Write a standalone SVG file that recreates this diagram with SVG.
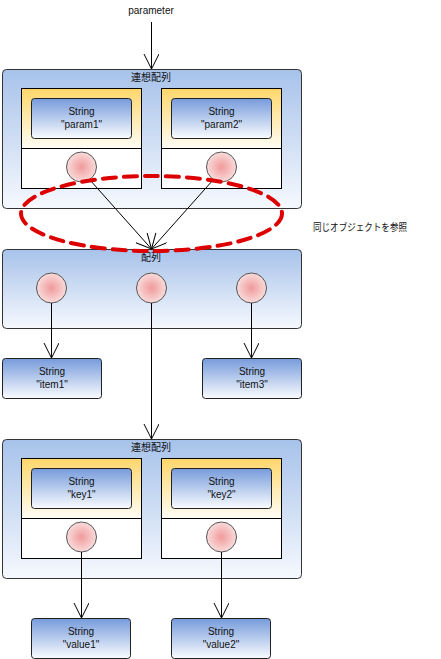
<svg xmlns="http://www.w3.org/2000/svg" width="441" height="659" viewBox="0 0 441 659">
<defs>
<linearGradient id="gOuter" x1="0" y1="0" x2="0" y2="1"><stop offset="0" stop-color="#A7C2EA"/><stop offset="1" stop-color="#F6F9FE"/></linearGradient>
<linearGradient id="gEntry" x1="0" y1="0" x2="0" y2="1"><stop offset="0" stop-color="#FFD66A"/><stop offset="1" stop-color="#FFFDF6"/></linearGradient>
<linearGradient id="gStr" x1="0" y1="0" x2="0" y2="1"><stop offset="0" stop-color="#769BDB"/><stop offset="1" stop-color="#FAFCFF"/></linearGradient>
<radialGradient id="gRef" cx="0.5" cy="0.5" r="0.5"><stop offset="0" stop-color="#F19A9A"/><stop offset="1" stop-color="#F9DCDC"/></radialGradient>
<marker id="arr" markerWidth="18" markerHeight="18" refX="15" refY="7.5" orient="auto" markerUnits="userSpaceOnUse"><path d="M0,0 L15,7.5 L0,15" fill="none" stroke="#000" stroke-width="1"/></marker>
</defs>
<style>
.outer{fill:url(#gOuter);stroke:#333;stroke-width:1}
.entry{fill:url(#gEntry);stroke:#000;stroke-width:1}
.slot{fill:#fff;stroke:#000;stroke-width:1}
.str{fill:url(#gStr);stroke:#222;stroke-width:1}
.ref{fill:url(#gRef);stroke:#555;stroke-width:1}
text{font-family:"Liberation Sans","Noto Sans CJK JP",sans-serif;font-size:10px;fill:#111;text-anchor:middle}
.cn{stroke:#000;stroke-width:1;fill:none;marker-end:url(#arr)}
</style>
<text x="151" y="14">parameter</text>

<g id="assoc1">
<rect class="outer" x="2.5" y="69.5" width="299" height="139" rx="4"/>
<text x="151" y="81">連想配列</text>
<g id="entry-param1">
<rect class="entry" x="21.5" y="88.5" width="120" height="60"/>
<rect class="slot" x="21.5" y="148.5" width="120" height="40"/>
<rect class="str" x="31.5" y="98.5" width="100" height="40" rx="3"/>
<text x="81.5" y="115">String</text><text x="81.5" y="128">"param1"</text>
<circle class="ref" cx="81.5" cy="167" r="15"/>
</g>
<g id="entry-param2">
<rect class="entry" x="161.5" y="88.5" width="120" height="60"/>
<rect class="slot" x="161.5" y="148.5" width="120" height="40"/>
<rect class="str" x="171.5" y="98.5" width="100" height="40" rx="3"/>
<text x="221.5" y="115">String</text><text x="221.5" y="128">"param2"</text>
<circle class="ref" cx="221.5" cy="167" r="15"/>
</g>
</g>

<g id="array">
<rect class="outer" x="2.5" y="249.5" width="299" height="79" rx="4"/>
<text x="151" y="261">配列</text>
<circle class="ref" cx="51.5" cy="288" r="15"/>
<circle class="ref" cx="151.5" cy="288" r="15"/>
<circle class="ref" cx="251.5" cy="288" r="15"/>
</g>

<g id="item1"><rect class="str" x="2.5" y="358.5" width="99" height="40" rx="3"/><text x="52" y="375">String</text><text x="52" y="388">"item1"</text></g>
<g id="item3"><rect class="str" x="202.5" y="358.5" width="99" height="40" rx="3"/><text x="252" y="375">String</text><text x="252" y="388">"item3"</text></g>

<g id="assoc2">
<rect class="outer" x="2.5" y="439.5" width="299" height="139" rx="4"/>
<text x="151" y="451">連想配列</text>
<g id="entry-key1">
<rect class="entry" x="21.5" y="458.5" width="120" height="60"/>
<rect class="slot" x="21.5" y="518.5" width="120" height="40"/>
<rect class="str" x="31.5" y="468.5" width="100" height="40" rx="3"/>
<text x="81.5" y="485">String</text><text x="81.5" y="498">"key1"</text>
<circle class="ref" cx="81.5" cy="537" r="15"/>
</g>
<g id="entry-key2">
<rect class="entry" x="161.5" y="458.5" width="120" height="60"/>
<rect class="slot" x="161.5" y="518.5" width="120" height="40"/>
<rect class="str" x="171.5" y="468.5" width="100" height="40" rx="3"/>
<text x="221.5" y="485">String</text><text x="221.5" y="498">"key2"</text>
<circle class="ref" cx="221.5" cy="537" r="15"/>
</g>
</g>

<g id="value1"><rect class="str" x="31.5" y="618.5" width="99" height="40" rx="3"/><text x="81" y="635">String</text><text x="81" y="648">"value1"</text></g>
<g id="value2"><rect class="str" x="171.5" y="618.5" width="99" height="40" rx="3"/><text x="221" y="635">String</text><text x="221" y="648">"value2"</text></g>

<g id="connectors">
<line class="cn" x1="151.5" y1="22" x2="151.5" y2="69"/>
<line class="cn" x1="90" y1="180" x2="151.5" y2="249"/>
<line class="cn" x1="213" y1="180" x2="151.5" y2="249"/>
<line class="cn" x1="51.5" y1="303" x2="51.5" y2="358"/>
<line class="cn" x1="251.5" y1="303" x2="251.5" y2="358"/>
<line class="cn" x1="151.5" y1="303" x2="151.5" y2="439"/>
<line class="cn" x1="81.5" y1="552" x2="81.5" y2="618"/>
<line class="cn" x1="221.5" y1="552" x2="221.5" y2="618"/>
</g>

<g id="same-object">
<ellipse cx="151.5" cy="213.5" rx="130.5" ry="37.5" fill="none" stroke="#DD0000" stroke-width="4" stroke-dasharray="13,8" stroke-linecap="round"/>
<text x="360" y="231" textLength="94" lengthAdjust="spacingAndGlyphs">同じオブジェクトを参照</text>
</g>
</svg>
